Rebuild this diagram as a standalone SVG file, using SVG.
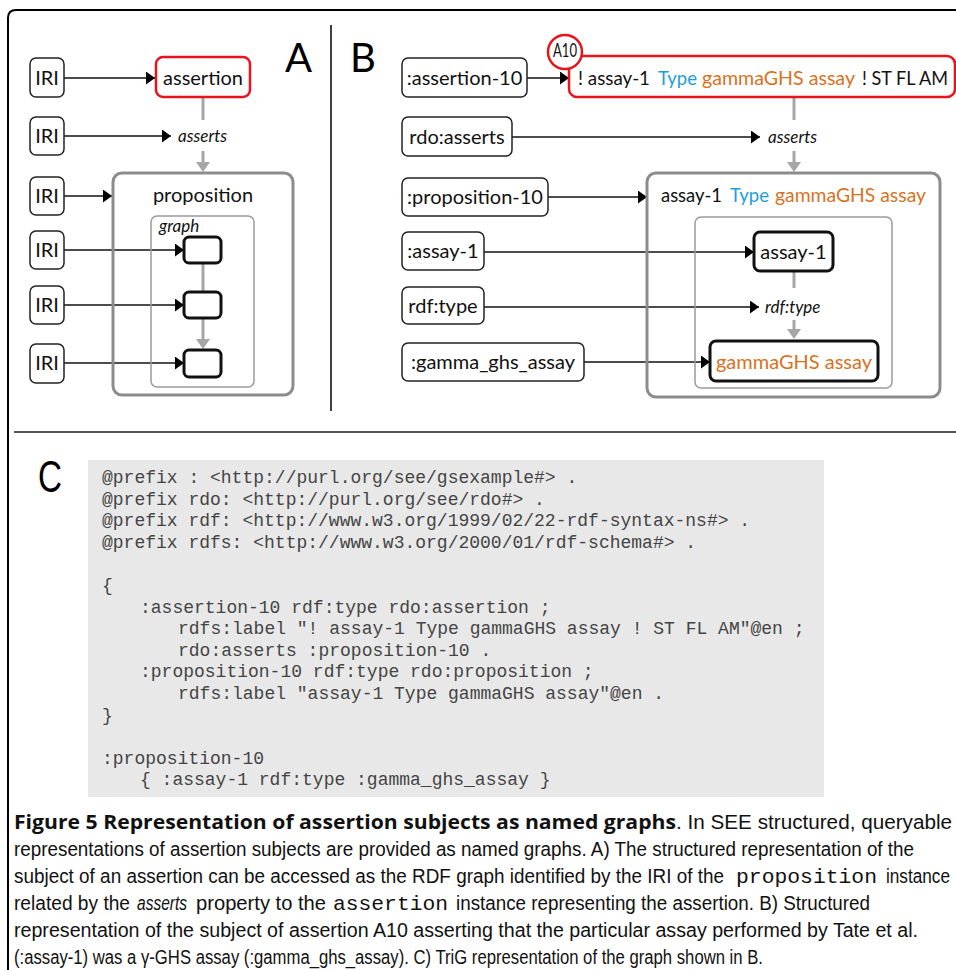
<svg xmlns="http://www.w3.org/2000/svg" width="956" height="970" viewBox="0 0 956 970">
<style>
.lbl{font-family:Lato,"Open Sans","Liberation Sans",sans-serif;font-size:20px;fill:#111}
.it{font-family:Lato,"Open Sans","Liberation Sans",sans-serif;font-style:italic;font-size:17px;fill:#111}
.big{font-family:Lato,"Open Sans","Liberation Sans",sans-serif;font-size:40px;fill:#000}
.box{fill:#fff;stroke:#222;stroke-width:1.5}
.node{fill:#fff;stroke:#111;stroke-width:3}
.red{fill:#fff;stroke:#e8141c;stroke-width:2.5}
.cont{fill:none;stroke:#8c8c8c;stroke-width:3}
.inner{fill:none;stroke:#9a9a9a;stroke-width:1.5}
.blk{stroke:#111;stroke-width:1.6;fill:none;marker-end:url(#ab)}
.gl{stroke:#a6a6a6;stroke-width:3;fill:none}
.blue{fill:#1e9ed8}
.orn{fill:#d9721e}
.code{font-family:"Liberation Mono","Courier New",monospace;font-size:18px;fill:#444}
.cap{font-family:"Liberation Sans Narrow","Liberation Sans",Arial,sans-serif;font-size:20px;fill:#111}
.capb{font-family:"Open Sans","Liberation Sans",sans-serif;font-weight:bold;font-size:20px;fill:#111}
.capm{font-family:"Liberation Mono","Courier New",monospace;font-size:21px;fill:#111}
</style>
<defs>
<marker id="ab" markerUnits="userSpaceOnUse" markerWidth="10" markerHeight="13" refX="9" refY="6.5" orient="auto"><path d="M0,0 L9,6.5 L0,13 z" fill="#000"/></marker>
</defs>
<rect width="956" height="970" fill="#fff"/>
<!-- frame -->
<path d="M8,970 L8,18 Q8,10 16,10 L956,10" fill="none" stroke="#000" stroke-width="2"/>
<line x1="331" y1="25" x2="331" y2="411" stroke="#000" stroke-width="1.5"/>
<line x1="14" y1="432" x2="956" y2="432" stroke="#555" stroke-width="2"/>
<text class="big" x="285" y="72">A</text>
<text class="big" x="350" y="72">B</text>
<text x="38" y="492" font-family="'Liberation Sans Narrow','Liberation Sans',sans-serif" font-size="44" textLength="24" lengthAdjust="spacingAndGlyphs">C</text>

<!-- connectors -->
<g id="connectors">
<line class="blk" x1="64" y1="78" x2="155" y2="78"/>
<line class="blk" x1="64" y1="136" x2="171" y2="136"/>
<line class="blk" x1="64" y1="196" x2="112" y2="196"/>
<line class="blk" x1="64" y1="250" x2="184" y2="250"/>
<line class="blk" x1="64" y1="305" x2="184" y2="305"/>
<line class="blk" x1="64" y1="363" x2="184" y2="363"/>
<line class="gl" x1="203" y1="98" x2="203" y2="120"/>
<line class="gl" x1="203" y1="151" x2="203" y2="163"/>
<path d="M196,162 L210,162 L203,172 z" fill="#a6a6a6"/>
<line class="gl" x1="203" y1="263" x2="203" y2="292"/>
<line class="gl" x1="203" y1="318" x2="203" y2="340"/>
<path d="M196,339 L210,339 L203,349 z" fill="#a6a6a6"/>

<line class="blk" x1="527" y1="78" x2="569" y2="78"/>
<line class="blk" x1="512" y1="137" x2="760" y2="137"/>
<line class="blk" x1="548" y1="197" x2="647" y2="197"/>
<line class="blk" x1="484" y1="252" x2="754" y2="252"/>
<line class="blk" x1="484" y1="307" x2="759" y2="307"/>
<line class="blk" x1="584" y1="362" x2="710" y2="362"/>
<line class="gl" x1="794" y1="98" x2="794" y2="120"/>
<line class="gl" x1="794" y1="151" x2="794" y2="163"/>
<path d="M787,162 L801,162 L794,172 z" fill="#a6a6a6"/>
<line class="gl" x1="794" y1="271" x2="794" y2="288"/>
<line class="gl" x1="794" y1="320" x2="794" y2="330"/>
<path d="M787,329 L801,329 L794,339 z" fill="#a6a6a6"/>
</g>

<!-- Panel A -->
<g id="a-iri1"><rect class="box" x="30" y="58" width="34" height="39" rx="6"/><text class="lbl" x="47" y="85" text-anchor="middle">IRI</text></g>
<g id="a-iri2"><rect class="box" x="30" y="117" width="34" height="38" rx="6"/><text class="lbl" x="47" y="143" text-anchor="middle">IRI</text></g>
<g id="a-iri3"><rect class="box" x="30" y="177" width="34" height="38" rx="6"/><text class="lbl" x="47" y="203" text-anchor="middle">IRI</text></g>
<g id="a-iri4"><rect class="box" x="30" y="231" width="34" height="38" rx="6"/><text class="lbl" x="47" y="257" text-anchor="middle">IRI</text></g>
<g id="a-iri5"><rect class="box" x="30" y="286" width="34" height="38" rx="6"/><text class="lbl" x="47" y="312" text-anchor="middle">IRI</text></g>
<g id="a-iri6"><rect class="box" x="30" y="344" width="34" height="39" rx="6"/><text class="lbl" x="47" y="370" text-anchor="middle">IRI</text></g>
<g id="a-assertion"><rect class="red" x="156" y="57" width="94" height="40" rx="7"/><text class="lbl" x="203" y="85" text-anchor="middle">assertion</text></g>
<g id="a-asserts"><text class="it" x="178" y="142">asserts</text></g>
<g id="a-proposition"><rect class="cont" x="113" y="173" width="180" height="222" rx="9"/><text class="lbl" x="203" y="202" text-anchor="middle">proposition</text></g>
<g id="a-graph"><rect class="inner" x="151" y="216" width="103" height="171" rx="6"/><text class="it" x="159" y="232" font-size="14">graph</text></g>
<g id="a-n1"><rect class="node" x="184" y="237" width="37" height="26" rx="5"/></g>
<g id="a-n2"><rect class="node" x="184" y="292" width="37" height="26" rx="5"/></g>
<g id="a-n3"><rect class="node" x="184" y="350" width="37" height="27" rx="5"/></g>

<!-- Panel B -->
<g id="b-assertion10"><rect class="box" x="402" y="58" width="125" height="39" rx="6"/><text class="lbl" x="464.5" y="85" text-anchor="middle">:assertion-10</text></g>
<g id="b-rdoasserts"><rect class="box" x="402" y="117" width="110" height="39" rx="6"/><text class="lbl" x="457" y="144" text-anchor="middle">rdo:asserts</text></g>
<g id="b-proposition10"><rect class="box" x="402" y="178" width="146" height="38" rx="6"/><text class="lbl" x="475" y="204" text-anchor="middle">:proposition-10</text></g>
<g id="b-assay1"><rect class="box" x="402" y="232" width="82" height="38" rx="6"/><text class="lbl" x="443" y="258" text-anchor="middle">:assay-1</text></g>
<g id="b-rdftype"><rect class="box" x="402" y="287" width="82" height="37" rx="6"/><text class="lbl" x="443" y="313" text-anchor="middle">rdf:type</text></g>
<g id="b-gamma"><rect class="box" x="402" y="343" width="182" height="38" rx="6"/><text class="lbl" x="493" y="369" text-anchor="middle">:gamma_ghs_assay</text></g>
<g id="b-assertion">
<rect class="red" x="569" y="56" width="386" height="41" rx="8"/>
<text class="lbl" y="85"><tspan x="578" textLength="72" lengthAdjust="spacingAndGlyphs">! assay-1</tspan><tspan class="blue" x="658" textLength="39" lengthAdjust="spacingAndGlyphs">Type</tspan><tspan class="orn" x="702" textLength="153" lengthAdjust="spacingAndGlyphs">gammaGHS assay</tspan><tspan x="862" textLength="86" lengthAdjust="spacingAndGlyphs">! ST FL AM</tspan></text>
</g>
<g id="b-a10"><circle cx="565" cy="52" r="17" fill="#fff" stroke="#e8141c" stroke-width="2.5"/><text class="lbl" x="565" y="57" font-size="13" text-anchor="middle" textLength="24" lengthAdjust="spacingAndGlyphs">A10</text></g>
<g id="b-asserts"><text class="it" x="768" y="143">asserts</text></g>
<g id="b-proposition">
<rect class="cont" x="647" y="173" width="293" height="224" rx="9"/>
<text class="lbl" y="202"><tspan x="661" textLength="61" lengthAdjust="spacingAndGlyphs">assay-1</tspan><tspan class="blue" x="730" textLength="39" lengthAdjust="spacingAndGlyphs">Type</tspan><tspan class="orn" x="775" textLength="151" lengthAdjust="spacingAndGlyphs">gammaGHS assay</tspan></text>
</g>
<g id="b-graph"><rect class="inner" x="695" y="217" width="197" height="171" rx="6"/></g>
<g id="b-node-assay1"><rect class="node" x="754" y="232" width="79" height="39" rx="6"/><text class="lbl" x="793.5" y="259" text-anchor="middle">assay-1</text></g>
<g id="b-rdftype-label"><text class="it" x="765" y="313">rdf:type</text></g>
<g id="b-node-gamma"><rect class="node" x="710" y="341" width="168" height="40" rx="6"/><text class="lbl orn" x="794" y="369" text-anchor="middle">gammaGHS assay</text></g>

<!-- Panel C -->
<g id="c-code">
<rect x="88" y="460" width="736" height="337" fill="#e8e8e8"/>
<text class="code" x="102" y="483">@prefix : &lt;http://purl.org/see/gsexample#&gt; .</text>
<text class="code" x="102" y="504.6">@prefix rdo: &lt;http://purl.org/see/rdo#&gt; .</text>
<text class="code" x="102" y="526.2">@prefix rdf: &lt;http://www.w3.org/1999/02/22-rdf-syntax-ns#&gt; .</text>
<text class="code" x="102" y="547.8">@prefix rdfs: &lt;http://www.w3.org/2000/01/rdf-schema#&gt; .</text>
<text class="code" x="102" y="591">{</text>
<text class="code" x="140" y="612.6">:assertion-10 rdf:type rdo:assertion ;</text>
<text class="code" x="178" y="634.2">rdfs:label "! assay-1 Type gammaGHS assay ! ST FL AM"@en ;</text>
<text class="code" x="178" y="655.8">rdo:asserts :proposition-10 .</text>
<text class="code" x="140" y="677.4">:proposition-10 rdf:type rdo:proposition ;</text>
<text class="code" x="178" y="699">rdfs:label "assay-1 Type gammaGHS assay"@en .</text>
<text class="code" x="102" y="720.6">}</text>
<text class="code" x="102" y="763.8">:proposition-10</text>
<text class="code" x="140" y="785.4">{ :assay-1 rdf:type :gamma_ghs_assay }</text>
</g>

<!-- Caption -->
<g id="caption">
<text class="capb" x="14" y="829" textLength="662" lengthAdjust="spacingAndGlyphs">Figure 5 Representation of assertion subjects as named graphs</text>
<text class="cap" x="676" y="829" textLength="276" lengthAdjust="spacingAndGlyphs">. In SEE structured, queryable</text>
<text class="cap" x="14" y="856" textLength="900" lengthAdjust="spacingAndGlyphs">representations of assertion subjects are provided as named graphs. A) The structured representation of the</text>
<text class="cap" x="14" y="883" textLength="710" lengthAdjust="spacingAndGlyphs">subject of an assertion can be accessed as the RDF graph identified by the IRI of the</text>
<text class="capm" x="736" y="883" textLength="141" lengthAdjust="spacingAndGlyphs">proposition</text>
<text class="cap" x="886" y="883" textLength="64" lengthAdjust="spacingAndGlyphs">instance</text>
<text class="cap" x="14" y="910" textLength="116" lengthAdjust="spacingAndGlyphs">related by the</text>
<text class="cap" x="137" y="910" font-style="italic" textLength="50" lengthAdjust="spacingAndGlyphs">asserts</text>
<text class="cap" x="196" y="910" textLength="130" lengthAdjust="spacingAndGlyphs">property to the</text>
<text class="capm" x="333" y="910" textLength="115" lengthAdjust="spacingAndGlyphs">assertion</text>
<text class="cap" x="456" y="910" textLength="414" lengthAdjust="spacingAndGlyphs">instance representing the assertion. B) Structured</text>
<text class="cap" x="14" y="937" textLength="904" lengthAdjust="spacingAndGlyphs">representation of the subject of assertion A10 asserting that the particular assay performed by Tate et al.</text>
<text class="cap" x="14" y="964" textLength="749" lengthAdjust="spacingAndGlyphs">(:assay-1) was a γ-GHS assay (:gamma_ghs_assay). C) TriG representation of the graph shown in B.</text>
</g>
</svg>
